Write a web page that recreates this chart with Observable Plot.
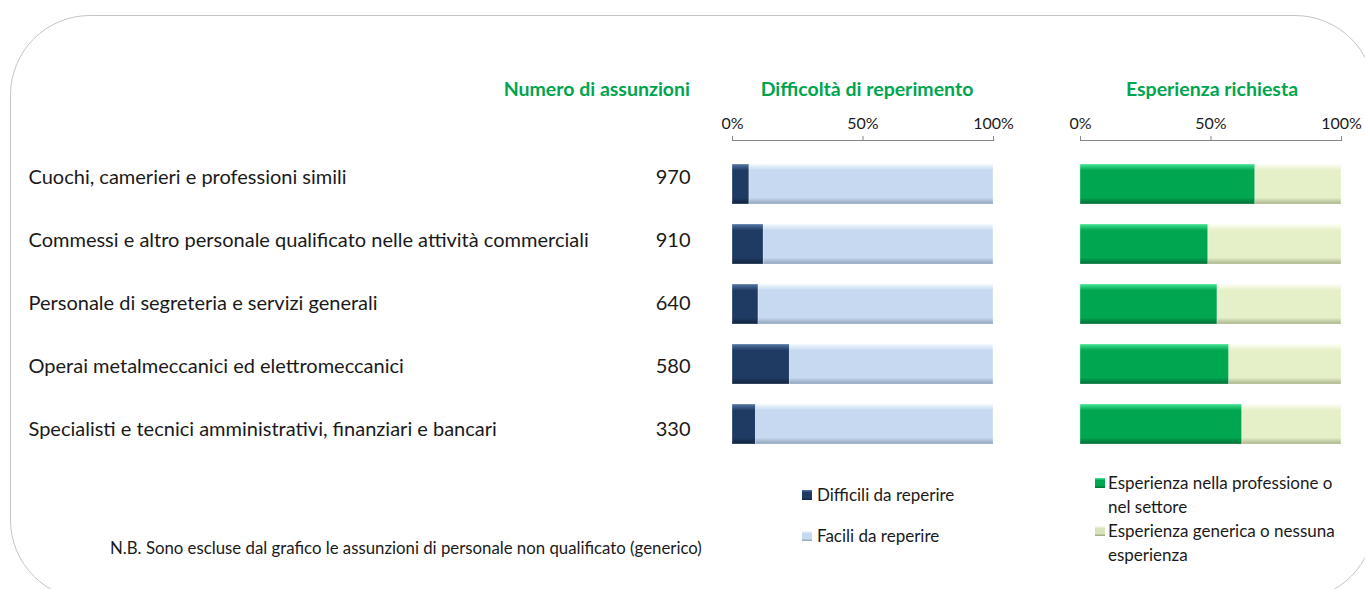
<!DOCTYPE html>
<html><head><meta charset="utf-8">
<script src="https://cdn.jsdelivr.net/npm/d3@7"></script>
<script src="https://cdn.jsdelivr.net/npm/@observablehq/plot@0.6"></script>
<style>
body{margin:0;background:#fff;}
#root{position:relative;width:1365px;height:589px;overflow:hidden;font-family:Lato,"Liberation Sans",Arial,sans-serif;color:#1a1a1a;}
.abs{position:absolute;white-space:nowrap;}
.hdr{position:absolute;color:#00a54f;font-weight:bold;font-size:19.5px;line-height:22px;white-space:nowrap;}
.legtxt{position:absolute;font-size:17px;line-height:24px;color:#1a1a1a;white-space:nowrap;}
.sw{position:absolute;width:10px;height:10px;}
</style></head>
<body><div id="root"></div>
<script>
const categories = [
  "Cuochi, camerieri e professioni simili",
  "Commessi e altro personale qualificato nelle attività commerciali",
  "Personale di segreteria e servizi generali",
  "Operai metalmeccanici ed elettromeccanici",
  "Specialisti e tecnici amministrativi, finanziari e bancari"
];
const assunzioni = [970, 910, 640, 580, 330];
const difficili = [0.065, 0.12, 0.10, 0.22, 0.09];
const esperienzaSettore = [0.67, 0.49, 0.525, 0.57, 0.62];
const diffSeries = ["Difficili da reperire", "Facili da reperire"];
const espSeries = ["Esperienza nella professione o nel settore", "Esperienza generica o nessuna esperienza"];
const axisTicks = [0, 0.5, 1];

const root = document.getElementById("root");
const H = 589;
const FONT = 'Lato,"Liberation Sans",Arial,sans-serif';
const yRange = [141, 466];

// rounded border
const border = document.createElement("div");
border.className = "abs";
Object.assign(border.style, {left:"10px", top:"15px", width:"1365px", height:"585px", border:"1.5px solid #c4c4c4", borderRadius:"80px", boxSizing:"border-box"});
root.appendChild(border);

function addHdr(text, css){
  const d = document.createElement("div"); d.className="hdr"; d.textContent=text;
  Object.assign(d.style, css); root.appendChild(d); return d;
}

// labels + numbers
const labelRows = categories.map((c,i)=>({cat:c, n:assunzioni[i]}));
const labelPlot = Plot.plot({
  width: 700, height: H, marginTop: 140, marginBottom: 0, marginLeft: 28, marginRight: 10,
  y: {type:"band", domain: categories, range: yRange, axis: null},
  marks: [
    Plot.text(labelRows, {y:"cat", text:"cat", frameAnchor:"left", textAnchor:"start", fontSize:20, fill:"#1a1a1a"}),
    Plot.text(labelRows, {y:"cat", text:d=>String(d.n), frameAnchor:"right", textAnchor:"end", fontSize:20, fill:"#1a1a1a"})
  ]
});
labelPlot.style.position="absolute"; labelPlot.style.left="0px"; labelPlot.style.top="0px";
labelPlot.style.fontFamily=FONT;
root.appendChild(labelPlot);

function gradDefs(svg, defs){
  const ns = "http://www.w3.org/2000/svg";
  const d = document.createElementNS(ns,"defs");
  defs.forEach(g=>{
    const lg = document.createElementNS(ns,"linearGradient");
    lg.setAttribute("id", g.id); lg.setAttribute("x1","0"); lg.setAttribute("x2","0"); lg.setAttribute("y1","0"); lg.setAttribute("y2","1");
    g.stops.forEach(([o,c])=>{const s=document.createElementNS(ns,"stop"); s.setAttribute("offset",o); s.setAttribute("stop-color",c); lg.appendChild(s);});
    d.appendChild(lg);
  });
  svg.insertBefore(d, svg.firstChild);
}

function panel(left, series, share, gradIds, gradStops){
  const rows = [];
  categories.forEach((c,i)=>{
    rows.push({cat:c, type:series[0], value:share[i]});
    rows.push({cat:c, type:series[1], value:1-share[i]});
  });
  const p = Plot.plot({
    width: 320, height: H, marginTop: 140, marginBottom: 0, marginLeft: 30, marginRight: 29,
    x: {domain:[0,1]},
    y: {type:"band", domain: categories, range: yRange, padding: 0.338, axis: null},
    color: {type:"ordinal", domain: series, range: gradIds.map(id=>`url(#${id})`)},
    marks: [
      Plot.frame({anchor:"top", stroke:"#868686", strokeWidth:1.2}),
      Plot.axisX({anchor:"top", ticks: axisTicks, tickFormat: d3.format(".0%"), tickSize:5, tickPadding:7, stroke:"#868686", fontSize:16, label:null}),
      Plot.barX(rows, {y:"cat", x:"value", fill:"type", order: series, stroke:"#ffffff", strokeOpacity:0.3, strokeWidth:1})
    ]
  });
  p.style.position="absolute"; p.style.left=left+"px"; p.style.top="0px";
  p.style.fontFamily=FONT;
  p.querySelectorAll("text").forEach(t=>t.setAttribute("fill","#1a1a1a"));
  gradDefs(p, gradIds.map((id,k)=>({id, stops:gradStops[k]})));
  root.appendChild(p);
}

panel(702, diffSeries, difficili, ["gNavy","gLight"], [
  [["0","#5577a6"],["0.16","#1f3b63"],["0.84","#1f3b63"],["1","#10233f"]],
  [["0","#f3f9ff"],["0.16","#c6d9f1"],["0.84","#c6d9f1"],["1","#8fa2ba"]]
]);
panel(1050, espSeries, esperienzaSettore, ["gGreen","gPale"], [
  [["0","#45e596"],["0.16","#00a650"],["0.84","#00a650"],["1","#006e35"]],
  [["0","#fdfff5"],["0.16","#e5f0c8"],["0.84","#e5f0c8"],["1","#aab38c"]]
]);

addHdr("Numero di assunzioni", {right:(1365-690)+"px", top:"78px"});
addHdr("Difficoltà di reperimento", {left:"867px", top:"78px", transform:"translateX(-50%)"});
addHdr("Esperienza richiesta", {left:"1212px", top:"78px", transform:"translateX(-50%)"});

// legends
function swatch(x, yc, grad){
  const s = document.createElement("div"); s.className="sw";
  Object.assign(s.style, {left:x+"px", top:(yc-5)+"px", background:grad});
  root.appendChild(s);
}
function ltext(x, yc, html){
  const t = document.createElement("div"); t.className="legtxt";
  t.innerHTML = html;
  Object.assign(t.style, {left:x+"px", top:(yc-12)+"px"});
  root.appendChild(t);
}
const gNavyCss = "linear-gradient(#5577a6,#1f3b63 25%,#1f3b63 75%,#10233f)";
const gLightCss = "linear-gradient(#f3f9ff,#c6d9f1 25%,#c6d9f1 75%,#8fa2ba)";
const gGreenCss = "linear-gradient(#45e596,#00a650 25%,#00a650 75%,#006e35)";
const gPaleCss = "linear-gradient(#fdfff5,#d9e3bd 25%,#d9e3bd 75%,#9aa37e)";
swatch(802, 495, gNavyCss); ltext(817, 495, diffSeries[0]);
swatch(802, 536, gLightCss); ltext(817, 536, diffSeries[1]);
swatch(1095, 483, gGreenCss); ltext(1108, 483, "Esperienza nella professione o<br>nel settore");
swatch(1095, 531, gPaleCss); ltext(1108, 531, "Esperienza generica o nessuna<br>esperienza");

const nb = document.createElement("div");
nb.className="abs"; nb.textContent="N.B. Sono escluse dal grafico le assunzioni di personale non qualificato (generico)";
Object.assign(nb.style,{left:"110px", top:"538px", fontSize:"16.8px", lineHeight:"20px", color:"#1a1a1a"});
root.appendChild(nb);
</script></body></html>
